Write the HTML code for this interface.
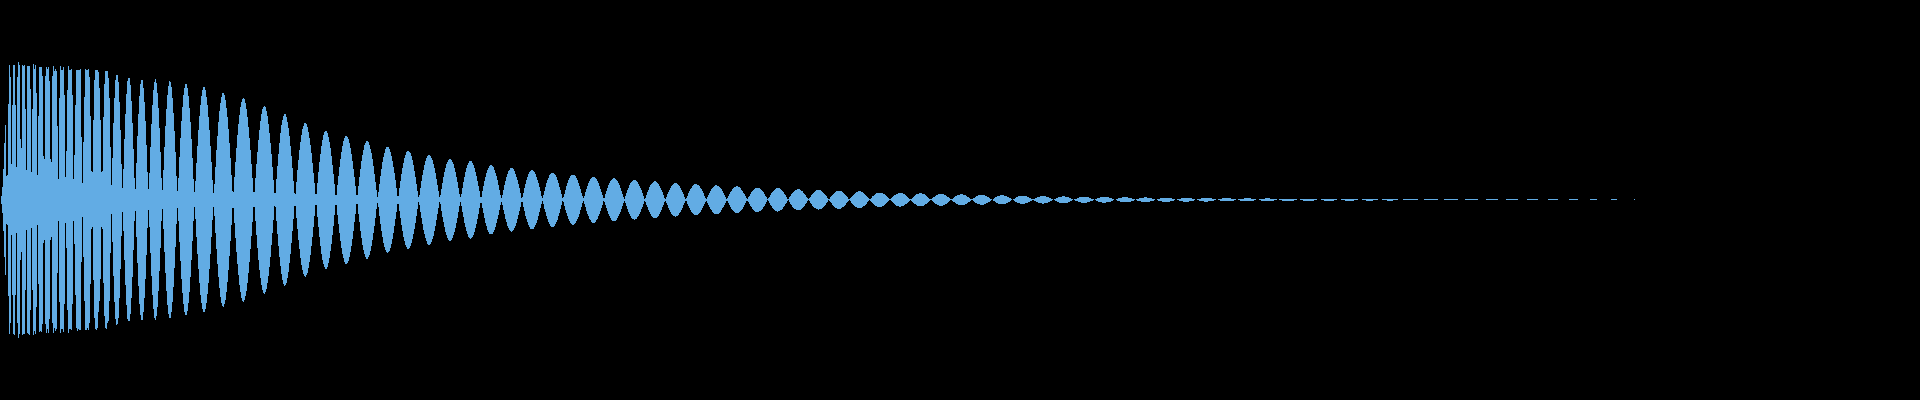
<!DOCTYPE html>
<html><head><meta charset="utf-8"><style>
html,body{margin:0;padding:0;background:#000;width:1920px;height:400px;overflow:hidden}
svg{display:block}
</style></head><body><svg width="1920" height="400" viewBox="0 0 1920 400" shape-rendering="crispEdges"><path fill="#62ace4" d="M1 196h1V204h-1zM2 187h1V213h-1zM3 169h1V231h-1zM4 143h1V257h-1zM5 125h1V275h-1zM6 176h1V224h-1zM7 175h1V225h-1zM8 104h1V296h-1zM9 65h1V334h-1zM10 77h1V323h-1zM11 164h1V235h-1zM12 105h1V295h-1zM13 65h1V334h-1zM14 65h1V335h-1zM15 105h1V295h-1zM16 167h1V233h-1zM17 77h1V323h-1zM18 62h1V338h-1zM19 65h1V334h-1zM20 139h1V260h-1zM21 148h1V252h-1zM22 65h1V335h-1zM23 66h1V334h-1zM24 65h1V334h-1zM25 109h1V290h-1zM26 170h1V230h-1zM27 66h1V333h-1zM28 66h1V334h-1zM29 66h1V335h-1zM30 89h1V310h-1zM31 172h1V228h-1zM32 109h1V290h-1zM33 64h1V335h-1zM34 69h1V331h-1zM35 65h1V334h-1zM36 93h1V307h-1zM37 175h1V225h-1zM38 116h1V284h-1zM39 67h1V332h-1zM40 67h1V331h-1zM41 67h1V332h-1zM42 76h1V324h-1zM43 156h1V243h-1zM44 159h1V240h-1zM45 76h1V324h-1zM46 67h1V333h-1zM47 69h1V329h-1zM48 67h1V333h-1zM49 81h1V319h-1zM50 159h1V240h-1zM51 162h1V237h-1zM52 76h1V323h-1zM53 66h1V333h-1zM54 71h1V328h-1zM55 69h1V331h-1zM56 71h1V329h-1zM57 126h1V273h-1zM58 179h1V221h-1zM59 98h1V302h-1zM60 66h1V333h-1zM61 70h1V329h-1zM62 70h1V329h-1zM63 67h1V332h-1zM64 95h1V304h-1zM65 177h1V223h-1zM66 151h1V248h-1zM67 90h1V310h-1zM68 66h1V333h-1zM69 70h1V329h-1zM70 70h1V329h-1zM71 69h1V330h-1zM72 95h1V304h-1zM73 179h1V221h-1zM74 155h1V244h-1zM75 105h1V295h-1zM76 70h1V328h-1zM77 70h1V331h-1zM78 70h1V329h-1zM79 70h1V330h-1zM80 69h1V330h-1zM81 137h1V262h-1zM82 183h1V217h-1zM83 142h1V257h-1zM84 97h1V301h-1zM85 69h1V330h-1zM86 70h1V330h-1zM87 70h1V328h-1zM88 69h1V330h-1zM89 77h1V323h-1zM90 116h1V284h-1zM91 171h1V229h-1zM92 172h1V227h-1zM93 120h1V280h-1zM94 80h1V318h-1zM95 70h1V329h-1zM96 70h1V330h-1zM97 70h1V328h-1zM98 72h1V312h-1zM99 88h1V301h-1zM100 120h1V279h-1zM101 172h1V227h-1zM102 171h1V229h-1zM103 117h1V283h-1zM104 84h1V316h-1zM105 71h1V328h-1zM106 71h1V329h-1zM107 71h1V323h-1zM108 78h1V321h-1zM109 98h1V301h-1zM110 147h1V253h-1zM111 185h1V214h-1zM112 158h1V242h-1zM113 123h1V276h-1zM114 98h1V302h-1zM115 80h1V319h-1zM116 75h1V325h-1zM117 75h1V324h-1zM118 82h1V318h-1zM119 102h1V298h-1zM120 130h1V269h-1zM121 164h1V236h-1zM122 188h1V212h-1zM123 169h1V231h-1zM124 139h1V260h-1zM125 114h1V285h-1zM126 94h1V305h-1zM127 81h1V319h-1zM128 78h1V321h-1zM129 78h1V321h-1zM130 85h1V314h-1zM131 101h1V298h-1zM132 123h1V277h-1zM133 149h1V250h-1zM134 178h1V221h-1zM135 189h1V211h-1zM136 163h1V237h-1zM137 136h1V263h-1zM138 114h1V286h-1zM139 96h1V304h-1zM140 84h1V315h-1zM141 80h1V320h-1zM142 80h1V320h-1zM143 88h1V312h-1zM144 102h1V298h-1zM145 121h1V279h-1zM146 145h1V255h-1zM147 172h1V228h-1zM148 189h1V210h-1zM149 173h1V227h-1zM150 147h1V253h-1zM151 124h1V276h-1zM152 105h1V295h-1zM153 90h1V309h-1zM154 82h1V318h-1zM155 79h1V320h-1zM156 83h1V316h-1zM157 93h1V307h-1zM158 108h1V291h-1zM159 128h1V271h-1zM160 152h1V248h-1zM161 178h1V221h-1zM162 190h1V209h-1zM163 170h1V229h-1zM164 147h1V252h-1zM165 126h1V273h-1zM166 109h1V291h-1zM167 95h1V305h-1zM168 86h1V314h-1zM169 81h1V318h-1zM170 82h1V318h-1zM171 87h1V312h-1zM172 98h1V302h-1zM173 113h1V287h-1zM174 131h1V268h-1zM175 152h1V247h-1zM176 176h1V224h-1zM177 191h1V208h-1zM178 178h1V221h-1zM179 157h1V242h-1zM180 138h1V261h-1zM181 121h1V279h-1zM182 107h1V293h-1zM183 95h1V304h-1zM184 88h1V312h-1zM185 84h1V315h-1zM186 84h1V315h-1zM187 88h1V311h-1zM188 96h1V303h-1zM189 108h1V292h-1zM190 122h1V277h-1zM191 139h1V260h-1zM192 158h1V241h-1zM193 179h1V221h-1zM194 192h1V207h-1zM195 181h1V219h-1zM196 163h1V237h-1zM197 146h1V254h-1zM198 130h1V269h-1zM199 116h1V283h-1zM200 105h1V295h-1zM201 96h1V303h-1zM202 90h1V309h-1zM203 87h1V312h-1zM204 87h1V312h-1zM205 90h1V309h-1zM206 97h1V303h-1zM207 105h1V294h-1zM208 117h1V283h-1zM209 130h1V269h-1zM210 146h1V254h-1zM211 162h1V237h-1zM212 180h1V220h-1zM213 193h1V207h-1zM214 184h1V216h-1zM215 167h1V233h-1zM216 150h1V249h-1zM217 136h1V264h-1zM218 122h1V277h-1zM219 111h1V288h-1zM220 103h1V297h-1zM221 97h1V303h-1zM222 93h1V306h-1zM223 93h1V307h-1zM224 95h1V304h-1zM225 100h1V300h-1zM226 108h1V292h-1zM227 117h1V282h-1zM228 129h1V270h-1zM229 143h1V256h-1zM230 158h1V241h-1zM231 175h1V225h-1zM232 191h1V208h-1zM233 192h1V208h-1zM234 177h1V223h-1zM235 162h1V238h-1zM236 148h1V252h-1zM237 135h1V264h-1zM238 124h1V275h-1zM239 115h1V285h-1zM240 107h1V292h-1zM241 102h1V298h-1zM242 99h1V301h-1zM243 98h1V302h-1zM244 99h1V300h-1zM245 103h1V296h-1zM246 109h1V291h-1zM247 117h1V283h-1zM248 127h1V273h-1zM249 138h1V262h-1zM250 150h1V249h-1zM251 164h1V236h-1zM252 178h1V222h-1zM253 192h1V207h-1zM254 192h1V207h-1zM255 178h1V221h-1zM256 164h1V235h-1zM257 152h1V248h-1zM258 140h1V260h-1zM259 130h1V270h-1zM260 121h1V278h-1zM261 114h1V285h-1zM262 109h1V290h-1zM263 107h1V293h-1zM264 106h1V294h-1zM265 107h1V292h-1zM266 111h1V289h-1zM267 116h1V283h-1zM268 124h1V276h-1zM269 133h1V267h-1zM270 143h1V257h-1zM271 154h1V245h-1zM272 167h1V233h-1zM273 180h1V220h-1zM274 193h1V206h-1zM275 193h1V207h-1zM276 179h1V221h-1zM277 166h1V234h-1zM278 154h1V246h-1zM279 143h1V257h-1zM280 133h1V266h-1zM281 125h1V274h-1zM282 120h1V280h-1zM283 116h1V284h-1zM284 114h1V286h-1zM285 114h1V285h-1zM286 117h1V283h-1zM287 122h1V278h-1zM288 128h1V272h-1zM289 136h1V263h-1zM290 146h1V254h-1zM291 156h1V243h-1zM292 168h1V231h-1zM293 181h1V219h-1zM294 193h1V206h-1zM295 194h1V206h-1zM296 182h1V218h-1zM297 170h1V229h-1zM298 160h1V240h-1zM299 150h1V249h-1zM300 142h1V258h-1zM301 135h1V265h-1zM302 129h1V270h-1zM303 126h1V274h-1zM304 123h1V276h-1zM305 123h1V277h-1zM306 124h1V275h-1zM307 127h1V273h-1zM308 132h1V268h-1zM309 138h1V262h-1zM310 145h1V255h-1zM311 153h1V246h-1zM312 163h1V237h-1zM313 173h1V227h-1zM314 183h1V216h-1zM315 194h1V205h-1zM316 194h1V205h-1zM317 183h1V217h-1zM318 172h1V227h-1zM319 162h1V237h-1zM320 154h1V246h-1zM321 146h1V254h-1zM322 140h1V260h-1zM323 135h1V264h-1zM324 132h1V267h-1zM325 131h1V269h-1zM326 131h1V269h-1zM327 133h1V267h-1zM328 137h1V263h-1zM329 142h1V258h-1zM330 148h1V251h-1zM331 156h1V244h-1zM332 165h1V235h-1zM333 174h1V226h-1zM334 184h1V215h-1zM335 195h1V205h-1zM336 195h1V205h-1zM337 185h1V215h-1zM338 176h1V224h-1zM339 167h1V233h-1zM340 159h1V241h-1zM341 152h1V248h-1zM342 146h1V254h-1zM343 141h1V258h-1zM344 138h1V262h-1zM345 136h1V264h-1zM346 136h1V264h-1zM347 137h1V263h-1zM348 139h1V261h-1zM349 143h1V257h-1zM350 148h1V252h-1zM351 154h1V246h-1zM352 161h1V239h-1zM353 169h1V231h-1zM354 177h1V222h-1zM355 186h1V214h-1zM356 195h1V204h-1zM357 195h1V204h-1zM358 186h1V214h-1zM359 177h1V222h-1zM360 169h1V231h-1zM361 161h1V238h-1zM362 155h1V245h-1zM363 150h1V250h-1zM364 145h1V254h-1zM365 143h1V257h-1zM366 141h1V259h-1zM367 141h1V259h-1zM368 142h1V257h-1zM369 145h1V255h-1zM370 149h1V251h-1zM371 153h1V246h-1zM372 159h1V240h-1zM373 166h1V233h-1zM374 174h1V226h-1zM375 182h1V218h-1zM376 190h1V209h-1zM377 197h1V203h-1zM378 192h1V207h-1zM379 184h1V216h-1zM380 176h1V224h-1zM381 169h1V231h-1zM382 162h1V237h-1zM383 157h1V243h-1zM384 153h1V247h-1zM385 149h1V250h-1zM386 147h1V252h-1zM387 147h1V253h-1zM388 147h1V252h-1zM389 149h1V251h-1zM390 152h1V248h-1zM391 156h1V244h-1zM392 161h1V239h-1zM393 167h1V233h-1zM394 173h1V226h-1zM395 180h1V219h-1zM396 188h1V212h-1zM397 196h1V204h-1zM398 196h1V204h-1zM399 188h1V211h-1zM400 181h1V218h-1zM401 174h1V225h-1zM402 168h1V231h-1zM403 163h1V237h-1zM404 158h1V241h-1zM405 155h1V245h-1zM406 152h1V247h-1zM407 151h1V249h-1zM408 151h1V249h-1zM409 152h1V248h-1zM410 153h1V246h-1zM411 156h1V243h-1zM412 160h1V239h-1zM413 165h1V234h-1zM414 171h1V229h-1zM415 177h1V223h-1zM416 184h1V216h-1zM417 191h1V209h-1zM418 197h1V202h-1zM419 195h1V205h-1zM420 188h1V212h-1zM421 181h1V218h-1zM422 175h1V224h-1zM423 170h1V230h-1zM424 165h1V234h-1zM425 161h1V238h-1zM426 158h1V241h-1zM427 156h1V244h-1zM428 155h1V245h-1zM429 155h1V245h-1zM430 156h1V244h-1zM431 158h1V242h-1zM432 160h1V239h-1zM433 164h1V236h-1zM434 168h1V231h-1zM435 173h1V226h-1zM436 179h1V220h-1zM437 185h1V214h-1zM438 191h1V208h-1zM439 197h1V202h-1zM440 195h1V204h-1zM441 189h1V211h-1zM442 183h1V217h-1zM443 177h1V222h-1zM444 172h1V227h-1zM445 168h1V232h-1zM446 164h1V235h-1zM447 162h1V238h-1zM448 160h1V240h-1zM449 159h1V241h-1zM450 159h1V241h-1zM451 160h1V240h-1zM452 162h1V238h-1zM453 164h1V235h-1zM454 168h1V232h-1zM455 172h1V228h-1zM456 177h1V223h-1zM457 182h1V218h-1zM458 188h1V212h-1zM459 194h1V206h-1zM460 197h1V202h-1zM461 194h1V206h-1zM462 188h1V212h-1zM463 182h1V217h-1zM464 177h1V223h-1zM465 172h1V227h-1zM466 168h1V231h-1zM467 165h1V234h-1zM468 163h1V237h-1zM469 161h1V238h-1zM470 161h1V239h-1zM471 161h1V238h-1zM472 163h1V237h-1zM473 165h1V235h-1zM474 168h1V232h-1zM475 172h1V228h-1zM476 176h1V224h-1zM477 181h1V219h-1zM478 186h1V214h-1zM479 191h1V208h-1zM480 197h1V203h-1zM481 197h1V203h-1zM482 191h1V208h-1zM483 186h1V213h-1zM484 181h1V218h-1zM485 177h1V223h-1zM486 173h1V226h-1zM487 170h1V230h-1zM488 168h1V232h-1zM489 166h1V234h-1zM490 165h1V234h-1zM491 165h1V234h-1zM492 166h1V234h-1zM493 167h1V232h-1zM494 170h1V230h-1zM495 173h1V227h-1zM496 176h1V223h-1zM497 180h1V219h-1zM498 185h1V215h-1zM499 190h1V210h-1zM500 195h1V205h-1zM501 198h1V202h-1zM502 195h1V205h-1zM503 190h1V210h-1zM504 185h1V214h-1zM505 181h1V219h-1zM506 177h1V222h-1zM507 174h1V226h-1zM508 171h1V228h-1zM509 170h1V230h-1zM510 168h1V231h-1zM511 168h1V232h-1zM512 168h1V231h-1zM513 169h1V230h-1zM514 171h1V228h-1zM515 174h1V226h-1zM516 177h1V223h-1zM517 180h1V219h-1zM518 184h1V215h-1zM519 188h1V211h-1zM520 193h1V207h-1zM521 198h1V202h-1zM522 197h1V202h-1zM523 193h1V207h-1zM524 188h1V211h-1zM525 184h1V216h-1zM526 180h1V219h-1zM527 177h1V222h-1zM528 174h1V225h-1zM529 172h1V227h-1zM530 171h1V229h-1zM531 170h1V229h-1zM532 170h1V229h-1zM533 171h1V229h-1zM534 172h1V227h-1zM535 174h1V225h-1zM536 177h1V223h-1zM537 180h1V220h-1zM538 183h1V216h-1zM539 187h1V212h-1zM540 191h1V208h-1zM541 196h1V204h-1zM542 198h1V201h-1zM543 195h1V204h-1zM544 191h1V209h-1zM545 187h1V212h-1zM546 183h1V216h-1zM547 180h1V219h-1zM548 178h1V222h-1zM549 175h1V224h-1zM550 174h1V226h-1zM551 173h1V227h-1zM552 173h1V227h-1zM553 173h1V227h-1zM554 174h1V226h-1zM555 175h1V224h-1zM556 177h1V222h-1zM557 180h1V220h-1zM558 183h1V216h-1zM559 187h1V213h-1zM560 190h1V209h-1zM561 194h1V205h-1zM562 198h1V201h-1zM563 197h1V202h-1zM564 194h1V206h-1zM565 190h1V210h-1zM566 186h1V213h-1zM567 183h1V216h-1zM568 180h1V219h-1zM569 178h1V221h-1zM570 176h1V223h-1zM571 175h1V224h-1zM572 175h1V225h-1zM573 175h1V225h-1zM574 175h1V224h-1zM575 176h1V223h-1zM576 178h1V221h-1zM577 180h1V219h-1zM578 183h1V217h-1zM579 186h1V214h-1zM580 189h1V210h-1zM581 193h1V207h-1zM582 196h1V203h-1zM583 198h1V201h-1zM584 196h1V204h-1zM585 192h1V207h-1zM586 189h1V211h-1zM587 186h1V214h-1zM588 183h1V216h-1zM589 181h1V219h-1zM590 179h1V220h-1zM591 178h1V222h-1zM592 177h1V223h-1zM593 177h1V223h-1zM594 177h1V223h-1zM595 178h1V222h-1zM596 179h1V220h-1zM597 181h1V219h-1zM598 183h1V216h-1zM599 186h1V214h-1zM600 189h1V211h-1zM601 192h1V208h-1zM602 195h1V205h-1zM603 198h1V201h-1zM604 198h1V202h-1zM605 194h1V205h-1zM606 191h1V208h-1zM607 188h1V211h-1zM608 185h1V214h-1zM609 183h1V216h-1zM610 181h1V218h-1zM611 180h1V220h-1zM612 179h1V221h-1zM613 178h1V221h-1zM614 178h1V221h-1zM615 179h1V221h-1zM616 180h1V220h-1zM617 181h1V218h-1zM618 183h1V216h-1zM619 185h1V214h-1zM620 188h1V212h-1zM621 191h1V209h-1zM622 194h1V206h-1zM623 197h1V203h-1zM624 199h1V201h-1zM625 196h1V203h-1zM626 193h1V206h-1zM627 190h1V209h-1zM628 188h1V212h-1zM629 185h1V214h-1zM630 183h1V216h-1zM631 182h1V218h-1zM632 181h1V219h-1zM633 180h1V219h-1zM634 180h1V220h-1zM635 180h1V219h-1zM636 181h1V219h-1zM637 182h1V217h-1zM638 184h1V216h-1zM639 186h1V214h-1zM640 188h1V212h-1zM641 190h1V209h-1zM642 193h1V207h-1zM643 196h1V204h-1zM644 199h1V201h-1zM645 198h1V202h-1zM646 195h1V205h-1zM647 192h1V207h-1zM648 190h1V210h-1zM649 187h1V212h-1zM650 185h1V214h-1zM651 184h1V216h-1zM652 183h1V217h-1zM653 182h1V218h-1zM654 181h1V218h-1zM655 181h1V218h-1zM656 182h1V218h-1zM657 183h1V217h-1zM658 184h1V216h-1zM659 186h1V214h-1zM660 188h1V212h-1zM661 190h1V210h-1zM662 192h1V207h-1zM663 195h1V205h-1zM664 198h1V202h-1zM665 199h1V201h-1zM666 197h1V203h-1zM667 194h1V205h-1zM668 192h1V208h-1zM669 190h1V210h-1zM670 188h1V212h-1zM671 186h1V214h-1zM672 185h1V215h-1zM673 184h1V216h-1zM674 183h1V216h-1zM675 183h1V217h-1zM676 183h1V216h-1zM677 184h1V216h-1zM678 185h1V215h-1zM679 186h1V213h-1zM680 188h1V212h-1zM681 190h1V210h-1zM682 192h1V208h-1zM683 194h1V205h-1zM684 197h1V203h-1zM685 199h1V201h-1zM686 198h1V201h-1zM687 196h1V204h-1zM688 193h1V206h-1zM689 191h1V208h-1zM690 189h1V210h-1zM691 188h1V212h-1zM692 186h1V213h-1zM693 185h1V214h-1zM694 184h1V215h-1zM695 184h1V215h-1zM696 184h1V215h-1zM697 185h1V215h-1zM698 185h1V214h-1zM699 186h1V213h-1zM700 188h1V212h-1zM701 189h1V210h-1zM702 191h1V208h-1zM703 193h1V206h-1zM704 196h1V204h-1zM705 198h1V202h-1zM706 199h1V201h-1zM707 197h1V203h-1zM708 195h1V205h-1zM709 193h1V207h-1zM710 191h1V209h-1zM711 189h1V210h-1zM712 188h1V212h-1zM713 187h1V213h-1zM714 186h1V214h-1zM715 185h1V214h-1zM716 185h1V214h-1zM717 186h1V214h-1zM718 186h1V214h-1zM719 187h1V213h-1zM720 188h1V212h-1zM721 189h1V210h-1zM722 191h1V208h-1zM723 193h1V207h-1zM724 195h1V205h-1zM725 197h1V203h-1zM726 199h1V201h-1zM727 198h1V201h-1zM728 196h1V203h-1zM729 194h1V205h-1zM730 192h1V207h-1zM731 191h1V209h-1zM732 189h1V210h-1zM733 188h1V211h-1zM734 187h1V212h-1zM735 187h1V213h-1zM736 186h1V213h-1zM737 186h1V213h-1zM738 187h1V213h-1zM739 187h1V212h-1zM740 188h1V211h-1zM741 190h1V210h-1zM742 191h1V209h-1zM743 193h1V207h-1zM744 194h1V205h-1zM745 196h1V203h-1zM746 198h1V201h-1zM747 199h1V201h-1zM748 197h1V202h-1zM749 196h1V204h-1zM750 194h1V206h-1zM751 192h1V207h-1zM752 191h1V209h-1zM753 190h1V210h-1zM754 189h1V211h-1zM755 188h1V212h-1zM756 188h1V212h-1zM757 188h1V212h-1zM758 188h1V212h-1zM759 188h1V211h-1zM760 189h1V211h-1zM761 190h1V210h-1zM762 191h1V209h-1zM763 192h1V207h-1zM764 194h1V206h-1zM765 196h1V204h-1zM766 197h1V202h-1zM767 199h1V200h-1zM768 198h1V201h-1zM769 197h1V203h-1zM770 195h1V205h-1zM771 193h1V206h-1zM772 192h1V208h-1zM773 191h1V209h-1zM774 190h1V210h-1zM775 189h1V211h-1zM776 188h1V211h-1zM777 188h1V212h-1zM778 188h1V211h-1zM779 188h1V211h-1zM780 189h1V210h-1zM781 190h1V210h-1zM782 191h1V209h-1zM783 192h1V207h-1zM784 194h1V206h-1zM785 195h1V204h-1zM786 197h1V203h-1zM787 199h1V201h-1zM788 199h1V200h-1zM789 197h1V202h-1zM790 196h1V204h-1zM791 194h1V205h-1zM792 193h1V207h-1zM793 192h1V208h-1zM794 191h1V209h-1zM795 190h1V209h-1zM796 190h1V210h-1zM797 189h1V210h-1zM798 189h1V210h-1zM799 189h1V210h-1zM800 190h1V210h-1zM801 191h1V209h-1zM802 191h1V208h-1zM803 193h1V207h-1zM804 194h1V206h-1zM805 195h1V204h-1zM806 197h1V203h-1zM807 198h1V201h-1zM808 199h1V200h-1zM809 198h1V201h-1zM810 197h1V203h-1zM811 195h1V204h-1zM812 194h1V206h-1zM813 193h1V207h-1zM814 192h1V208h-1zM815 191h1V208h-1zM816 190h1V209h-1zM817 190h1V209h-1zM818 190h1V210h-1zM819 190h1V209h-1zM820 190h1V209h-1zM821 191h1V209h-1zM822 192h1V208h-1zM823 193h1V207h-1zM824 194h1V206h-1zM825 195h1V205h-1zM826 196h1V203h-1zM827 198h1V202h-1zM828 199h1V200h-1zM829 199h1V201h-1zM830 197h1V202h-1zM831 196h1V203h-1zM832 195h1V205h-1zM833 194h1V206h-1zM834 193h1V207h-1zM835 192h1V208h-1zM836 191h1V208h-1zM837 191h1V209h-1zM838 191h1V209h-1zM839 191h1V209h-1zM840 191h1V209h-1zM841 191h1V208h-1zM842 192h1V207h-1zM843 193h1V207h-1zM844 194h1V206h-1zM845 195h1V205h-1zM846 196h1V203h-1zM847 197h1V202h-1zM848 199h1V201h-1zM849 199h1V200h-1zM850 198h1V201h-1zM851 197h1V203h-1zM852 196h1V204h-1zM853 195h1V205h-1zM854 194h1V206h-1zM855 193h1V207h-1zM856 192h1V207h-1zM857 192h1V208h-1zM858 191h1V208h-1zM859 191h1V208h-1zM860 191h1V208h-1zM861 192h1V208h-1zM862 192h1V207h-1zM863 193h1V206h-1zM864 194h1V206h-1zM865 195h1V205h-1zM866 196h1V204h-1zM867 197h1V202h-1zM868 198h1V201h-1zM869 199h1V200h-1zM870 199h1V201h-1zM871 198h1V202h-1zM872 196h1V203h-1zM873 196h1V204h-1zM874 195h1V205h-1zM875 194h1V206h-1zM876 193h1V206h-1zM877 193h1V207h-1zM878 193h1V207h-1zM879 193h1V207h-1zM880 193h1V207h-1zM881 193h1V207h-1zM882 193h1V206h-1zM883 194h1V206h-1zM884 194h1V205h-1zM885 195h1V204h-1zM886 196h1V203h-1zM887 197h1V202h-1zM888 198h1V201h-1zM889 199h1V200h-1zM890 199h1V200h-1zM891 198h1V201h-1zM892 197h1V202h-1zM893 196h1V203h-1zM894 195h1V204h-1zM895 195h1V205h-1zM896 194h1V206h-1zM897 194h1V206h-1zM898 193h1V206h-1zM899 193h1V207h-1zM900 193h1V207h-1zM901 193h1V206h-1zM902 193h1V206h-1zM903 194h1V206h-1zM904 194h1V205h-1zM905 195h1V204h-1zM906 196h1V204h-1zM907 197h1V203h-1zM908 198h1V202h-1zM909 199h1V201h-1zM910 199h1V200h-1zM911 199h1V201h-1zM912 198h1V202h-1zM913 197h1V203h-1zM914 196h1V204h-1zM915 195h1V204h-1zM916 194h1V205h-1zM917 194h1V206h-1zM918 194h1V206h-1zM919 193h1V206h-1zM920 193h1V206h-1zM921 193h1V206h-1zM922 194h1V206h-1zM923 194h1V206h-1zM924 194h1V205h-1zM925 195h1V204h-1zM926 196h1V204h-1zM927 197h1V203h-1zM928 198h1V202h-1zM929 199h1V201h-1zM930 199h1V200h-1zM931 199h1V200h-1zM932 198h1V201h-1zM933 197h1V202h-1zM934 197h1V203h-1zM935 196h1V204h-1zM936 195h1V204h-1zM937 195h1V205h-1zM938 194h1V205h-1zM939 194h1V206h-1zM940 194h1V206h-1zM941 194h1V206h-1zM942 194h1V206h-1zM943 194h1V205h-1zM944 195h1V205h-1zM945 195h1V204h-1zM946 196h1V204h-1zM947 197h1V203h-1zM948 197h1V202h-1zM949 198h1V201h-1zM950 199h1V200h-1zM951 199h1V200h-1zM952 199h1V201h-1zM953 198h1V202h-1zM954 197h1V202h-1zM955 196h1V203h-1zM956 196h1V204h-1zM957 195h1V204h-1zM958 195h1V205h-1zM959 195h1V205h-1zM960 194h1V205h-1zM961 194h1V205h-1zM962 194h1V205h-1zM963 195h1V205h-1zM964 195h1V205h-1zM965 195h1V204h-1zM966 196h1V204h-1zM967 197h1V203h-1zM968 197h1V202h-1zM969 198h1V202h-1zM970 199h1V201h-1zM971 199h1V200h-1zM972 199h1V200h-1zM973 198h1V201h-1zM974 198h1V202h-1zM975 197h1V203h-1zM976 196h1V203h-1zM977 196h1V204h-1zM978 195h1V204h-1zM979 195h1V204h-1zM980 195h1V205h-1zM981 195h1V205h-1zM982 195h1V205h-1zM983 195h1V205h-1zM984 195h1V204h-1zM985 196h1V204h-1zM986 196h1V203h-1zM987 197h1V203h-1zM988 197h1V202h-1zM989 198h1V202h-1zM990 199h1V201h-1zM991 199h1V200h-1zM993 199h1V201h-1zM994 198h1V201h-1zM995 197h1V202h-1zM996 197h1V203h-1zM997 196h1V203h-1zM998 196h1V204h-1zM999 196h1V204h-1zM1000 195h1V204h-1zM1001 195h1V204h-1zM1002 195h1V204h-1zM1003 195h1V204h-1zM1004 196h1V204h-1zM1005 196h1V204h-1zM1006 196h1V203h-1zM1007 197h1V203h-1zM1008 197h1V202h-1zM1009 198h1V202h-1zM1010 198h1V201h-1zM1011 199h1V200h-1zM1013 199h1V200h-1zM1014 199h1V201h-1zM1015 198h1V202h-1zM1016 197h1V202h-1zM1017 197h1V203h-1zM1018 196h1V203h-1zM1019 196h1V203h-1zM1020 196h1V204h-1zM1021 196h1V204h-1zM1022 196h1V204h-1zM1023 196h1V204h-1zM1024 196h1V204h-1zM1025 196h1V203h-1zM1026 196h1V203h-1zM1027 197h1V203h-1zM1028 197h1V202h-1zM1029 198h1V202h-1zM1030 198h1V201h-1zM1031 199h1V201h-1zM1032 199h1V200h-1zM1033 199h1V200h-1zM1034 199h1V201h-1zM1035 198h1V201h-1zM1036 198h1V202h-1zM1037 197h1V202h-1zM1038 197h1V203h-1zM1039 197h1V203h-1zM1040 196h1V203h-1zM1041 196h1V203h-1zM1042 196h1V204h-1zM1043 196h1V204h-1zM1044 196h1V203h-1zM1045 196h1V203h-1zM1046 197h1V203h-1zM1047 197h1V203h-1zM1048 197h1V202h-1zM1049 198h1V202h-1zM1050 198h1V201h-1zM1051 199h1V201h-1zM1052 199h1V200h-1zM1054 199h1V200h-1zM1055 199h1V201h-1zM1056 198h1V201h-1zM1057 198h1V202h-1zM1058 197h1V202h-1zM1059 197h1V203h-1zM1060 197h1V203h-1zM1061 197h1V203h-1zM1062 196h1V203h-1zM1063 196h1V203h-1zM1064 196h1V203h-1zM1065 197h1V203h-1zM1066 197h1V203h-1zM1067 197h1V203h-1zM1068 197h1V202h-1zM1069 198h1V202h-1zM1070 198h1V201h-1zM1071 199h1V201h-1zM1072 199h1V200h-1zM1074 199h1V200h-1zM1075 199h1V201h-1zM1076 199h1V201h-1zM1077 198h1V201h-1zM1078 198h1V202h-1zM1079 197h1V202h-1zM1080 197h1V202h-1zM1081 197h1V203h-1zM1082 197h1V203h-1zM1083 197h1V203h-1zM1084 197h1V203h-1zM1085 197h1V203h-1zM1086 197h1V203h-1zM1087 197h1V202h-1zM1088 197h1V202h-1zM1089 198h1V202h-1zM1090 198h1V201h-1zM1091 199h1V201h-1zM1092 199h1V201h-1zM1093 199h1V200h-1zM1095 199h1V200h-1zM1096 199h1V201h-1zM1097 198h1V201h-1zM1098 198h1V202h-1zM1099 198h1V202h-1zM1100 197h1V202h-1zM1101 197h1V202h-1zM1102 197h1V203h-1zM1103 197h1V203h-1zM1104 197h1V203h-1zM1105 197h1V203h-1zM1106 197h1V202h-1zM1107 197h1V202h-1zM1108 197h1V202h-1zM1109 198h1V202h-1zM1110 198h1V202h-1zM1111 198h1V201h-1zM1112 199h1V201h-1zM1113 199h1V200h-1zM1116 199h1V200h-1zM1117 199h1V201h-1zM1118 198h1V201h-1zM1119 198h1V201h-1zM1120 198h1V202h-1zM1121 198h1V202h-1zM1122 197h1V202h-1zM1123 197h1V202h-1zM1124 197h1V202h-1zM1125 197h1V202h-1zM1126 197h1V202h-1zM1127 197h1V202h-1zM1128 198h1V202h-1zM1129 198h1V202h-1zM1130 198h1V202h-1zM1131 198h1V201h-1zM1132 199h1V201h-1zM1133 199h1V201h-1zM1134 199h1V200h-1zM1136 199h1V200h-1zM1137 199h1V201h-1zM1138 199h1V201h-1zM1139 198h1V201h-1zM1140 198h1V201h-1zM1141 198h1V202h-1zM1142 198h1V202h-1zM1143 198h1V202h-1zM1144 197h1V202h-1zM1145 197h1V202h-1zM1146 197h1V202h-1zM1147 198h1V202h-1zM1148 198h1V202h-1zM1149 198h1V202h-1zM1150 198h1V201h-1zM1151 198h1V201h-1zM1152 199h1V201h-1zM1153 199h1V201h-1zM1154 199h1V200h-1zM1157 199h1V200h-1zM1158 199h1V201h-1zM1159 199h1V201h-1zM1160 198h1V201h-1zM1161 198h1V201h-1zM1162 198h1V202h-1zM1163 198h1V202h-1zM1164 198h1V202h-1zM1165 198h1V202h-1zM1166 198h1V202h-1zM1167 198h1V202h-1zM1168 198h1V202h-1zM1169 198h1V202h-1zM1170 198h1V201h-1zM1171 198h1V201h-1zM1172 199h1V201h-1zM1173 199h1V201h-1zM1174 199h1V200h-1zM1177 199h1V200h-1zM1178 199h1V200h-1zM1179 199h1V201h-1zM1180 199h1V201h-1zM1181 198h1V201h-1zM1182 198h1V201h-1zM1183 198h1V202h-1zM1184 198h1V202h-1zM1185 198h1V202h-1zM1186 198h1V202h-1zM1187 198h1V202h-1zM1188 198h1V202h-1zM1189 198h1V201h-1zM1190 198h1V201h-1zM1191 198h1V201h-1zM1192 199h1V201h-1zM1193 199h1V201h-1zM1194 199h1V200h-1zM1197 199h1V200h-1zM1198 199h1V200h-1zM1199 199h1V201h-1zM1200 199h1V201h-1zM1201 198h1V201h-1zM1202 198h1V201h-1zM1203 198h1V201h-1zM1204 198h1V202h-1zM1205 198h1V202h-1zM1206 198h1V202h-1zM1207 198h1V202h-1zM1208 198h1V201h-1zM1209 198h1V201h-1zM1210 198h1V201h-1zM1211 198h1V201h-1zM1212 199h1V201h-1zM1213 199h1V201h-1zM1214 199h1V200h-1zM1215 199h1V200h-1zM1218 199h1V200h-1zM1219 199h1V200h-1zM1220 199h1V201h-1zM1221 199h1V201h-1zM1222 198h1V201h-1zM1223 198h1V201h-1zM1224 198h1V201h-1zM1225 198h1V201h-1zM1226 198h1V201h-1zM1227 198h1V201h-1zM1228 198h1V201h-1zM1229 198h1V201h-1zM1230 198h1V201h-1zM1231 199h1V201h-1zM1232 199h1V201h-1zM1233 199h1V201h-1zM1234 199h1V200h-1zM1235 199h1V200h-1zM1238 199h1V200h-1zM1239 199h1V200h-1zM1240 199h1V201h-1zM1241 199h1V201h-1zM1242 199h1V201h-1zM1243 199h1V201h-1zM1244 198h1V201h-1zM1245 198h1V201h-1zM1246 198h1V201h-1zM1247 198h1V201h-1zM1248 198h1V201h-1zM1249 198h1V201h-1zM1250 198h1V201h-1zM1251 199h1V201h-1zM1252 199h1V201h-1zM1253 199h1V201h-1zM1254 199h1V200h-1zM1255 199h1V200h-1zM1259 199h1V200h-1zM1260 199h1V200h-1zM1261 199h1V201h-1zM1262 199h1V201h-1zM1263 199h1V201h-1zM1264 199h1V201h-1zM1265 198h1V201h-1zM1266 198h1V201h-1zM1267 198h1V201h-1zM1268 198h1V201h-1zM1269 198h1V201h-1zM1270 199h1V201h-1zM1271 199h1V201h-1zM1272 199h1V201h-1zM1273 199h1V201h-1zM1274 199h1V200h-1zM1275 199h1V200h-1zM1276 199h1V200h-1zM1279 199h1V200h-1zM1280 199h1V200h-1zM1281 199h1V200h-1zM1282 199h1V201h-1zM1283 199h1V201h-1zM1284 199h1V201h-1zM1285 199h1V201h-1zM1286 199h1V201h-1zM1287 199h1V201h-1zM1288 199h1V201h-1zM1289 199h1V201h-1zM1290 199h1V201h-1zM1291 199h1V201h-1zM1292 199h1V201h-1zM1293 199h1V201h-1zM1294 199h1V200h-1zM1295 199h1V200h-1zM1296 199h1V200h-1zM1300 199h1V200h-1zM1301 199h1V200h-1zM1302 199h1V200h-1zM1303 199h1V201h-1zM1304 199h1V201h-1zM1305 199h1V201h-1zM1306 199h1V201h-1zM1307 199h1V201h-1zM1308 199h1V201h-1zM1309 199h1V201h-1zM1310 199h1V201h-1zM1311 199h1V201h-1zM1312 199h1V201h-1zM1313 199h1V201h-1zM1314 199h1V200h-1zM1315 199h1V200h-1zM1316 199h1V200h-1zM1321 199h1V200h-1zM1322 199h1V200h-1zM1323 199h1V200h-1zM1324 199h1V201h-1zM1325 199h1V201h-1zM1326 199h1V201h-1zM1327 199h1V201h-1zM1328 199h1V201h-1zM1329 199h1V201h-1zM1330 199h1V201h-1zM1331 199h1V201h-1zM1332 199h1V201h-1zM1333 199h1V201h-1zM1334 199h1V200h-1zM1335 199h1V200h-1zM1336 199h1V200h-1zM1341 199h1V200h-1zM1342 199h1V200h-1zM1343 199h1V200h-1zM1344 199h1V200h-1zM1345 199h1V201h-1zM1346 199h1V201h-1zM1347 199h1V201h-1zM1348 199h1V201h-1zM1349 199h1V201h-1zM1350 199h1V201h-1zM1351 199h1V201h-1zM1352 199h1V201h-1zM1353 199h1V201h-1zM1354 199h1V200h-1zM1355 199h1V200h-1zM1356 199h1V200h-1zM1357 199h1V200h-1zM1362 199h1V200h-1zM1363 199h1V200h-1zM1364 199h1V200h-1zM1365 199h1V200h-1zM1366 199h1V201h-1zM1367 199h1V201h-1zM1368 199h1V201h-1zM1369 199h1V201h-1zM1370 199h1V201h-1zM1371 199h1V201h-1zM1372 199h1V201h-1zM1373 199h1V200h-1zM1374 199h1V200h-1zM1375 199h1V200h-1zM1376 199h1V200h-1zM1377 199h1V200h-1zM1382 199h1V200h-1zM1383 199h1V200h-1zM1384 199h1V200h-1zM1385 199h1V200h-1zM1386 199h1V200h-1zM1387 199h1V201h-1zM1388 199h1V201h-1zM1389 199h1V201h-1zM1390 199h1V201h-1zM1391 199h1V201h-1zM1392 199h1V201h-1zM1393 199h1V200h-1zM1394 199h1V200h-1zM1395 199h1V200h-1zM1396 199h1V200h-1zM1397 199h1V200h-1zM1403 199h1V200h-1zM1404 199h1V200h-1zM1405 199h1V200h-1zM1406 199h1V200h-1zM1407 199h1V200h-1zM1408 199h1V200h-1zM1409 199h1V200h-1zM1410 199h1V200h-1zM1411 199h1V200h-1zM1412 199h1V200h-1zM1413 199h1V200h-1zM1414 199h1V200h-1zM1415 199h1V200h-1zM1416 199h1V200h-1zM1417 199h1V200h-1zM1424 199h1V200h-1zM1425 199h1V200h-1zM1426 199h1V200h-1zM1427 199h1V200h-1zM1428 199h1V200h-1zM1429 199h1V200h-1zM1430 199h1V200h-1zM1431 199h1V200h-1zM1432 199h1V200h-1zM1433 199h1V200h-1zM1434 199h1V200h-1zM1435 199h1V200h-1zM1436 199h1V200h-1zM1437 199h1V200h-1zM1444 199h1V200h-1zM1445 199h1V200h-1zM1446 199h1V200h-1zM1447 199h1V200h-1zM1448 199h1V200h-1zM1449 199h1V200h-1zM1450 199h1V200h-1zM1451 199h1V200h-1zM1452 199h1V200h-1zM1453 199h1V200h-1zM1454 199h1V200h-1zM1455 199h1V200h-1zM1456 199h1V200h-1zM1457 199h1V200h-1zM1465 199h1V200h-1zM1466 199h1V200h-1zM1467 199h1V200h-1zM1468 199h1V200h-1zM1469 199h1V200h-1zM1470 199h1V200h-1zM1471 199h1V200h-1zM1472 199h1V200h-1zM1473 199h1V200h-1zM1474 199h1V200h-1zM1475 199h1V200h-1zM1476 199h1V200h-1zM1477 199h1V200h-1zM1486 199h1V200h-1zM1487 199h1V200h-1zM1488 199h1V200h-1zM1489 199h1V200h-1zM1490 199h1V200h-1zM1491 199h1V200h-1zM1492 199h1V200h-1zM1493 199h1V200h-1zM1494 199h1V200h-1zM1495 199h1V200h-1zM1496 199h1V200h-1zM1497 199h1V200h-1zM1506 199h1V200h-1zM1507 199h1V200h-1zM1508 199h1V200h-1zM1509 199h1V200h-1zM1510 199h1V200h-1zM1511 199h1V200h-1zM1512 199h1V200h-1zM1513 199h1V200h-1zM1514 199h1V200h-1zM1515 199h1V200h-1zM1516 199h1V200h-1zM1517 199h1V200h-1zM1527 199h1V200h-1zM1528 199h1V200h-1zM1529 199h1V200h-1zM1530 199h1V200h-1zM1531 199h1V200h-1zM1532 199h1V200h-1zM1533 199h1V200h-1zM1534 199h1V200h-1zM1535 199h1V200h-1zM1536 199h1V200h-1zM1537 199h1V200h-1zM1548 199h1V200h-1zM1549 199h1V200h-1zM1550 199h1V200h-1zM1551 199h1V200h-1zM1552 199h1V200h-1zM1553 199h1V200h-1zM1554 199h1V200h-1zM1555 199h1V200h-1zM1556 199h1V200h-1zM1557 199h1V200h-1zM1569 199h1V200h-1zM1570 199h1V200h-1zM1571 199h1V200h-1zM1572 199h1V200h-1zM1573 199h1V200h-1zM1574 199h1V200h-1zM1575 199h1V200h-1zM1576 199h1V200h-1zM1577 199h1V200h-1zM1590 199h1V200h-1zM1591 199h1V200h-1zM1592 199h1V200h-1zM1593 199h1V200h-1zM1594 199h1V200h-1zM1595 199h1V200h-1zM1596 199h1V200h-1zM1611 199h1V200h-1zM1612 199h1V200h-1zM1613 199h1V200h-1zM1614 199h1V200h-1zM1615 199h1V200h-1zM1616 199h1V200h-1zM1634 199h1V200h-1z"/></svg></body></html>
